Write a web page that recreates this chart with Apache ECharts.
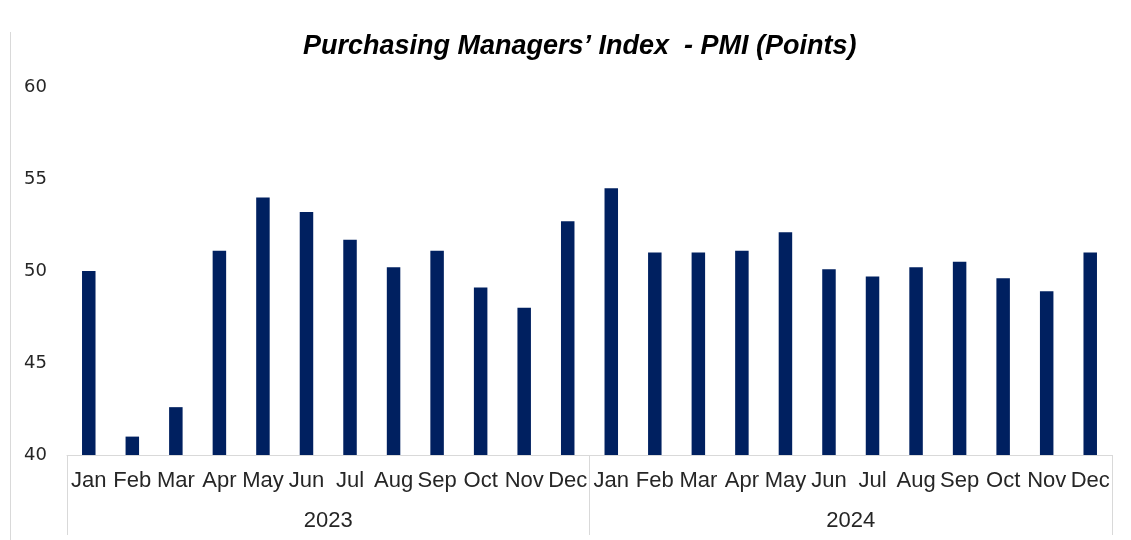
<!DOCTYPE html>
<html lang="en">
  <head>
    <meta charset="UTF-8" />
    <title>Purchasing Managers' Index - PMI</title>
    <script src="https://cdnjs.cloudflare.com/ajax/libs/echarts/6.0.0/echarts.min.js"></script>
    <style>
      html, body { margin: 0; padding: 0; background: #fff; }
      #main { width: 1131px; height: 540px; }
    </style>
  </head>
  <body>
    <div id="main"></div>
    <script type="text/javascript">
      // data
      const months = ["Jan", "Feb", "Mar", "Apr", "May", "Jun", "Jul", "Aug", "Sep", "Oct", "Nov", "Dec"];
      const years = ["2023", "2024"];
      const pmi2023 = [50.0, 41.0, 42.6, 51.1, 54.0, 53.2, 51.7, 50.2, 51.1, 49.1, 48.0, 52.7];
      const pmi2024 = [54.5, 51.0, 51.0, 51.1, 52.1, 50.1, 49.7, 50.2, 50.5, 49.6, 48.9, 51.0];
      const yTicks = [40, 45, 50, 55, 60];

      const categories = months.concat(months);
      const values = pmi2023.concat(pmi2024);

      var myChart = echarts.init(document.getElementById("main"));

      var option = {
        animation: false,
        title: {
          text: "Purchasing Managers\u2019 Index  - PMI (Points)",
          left: 298,
          top: 28,
          textStyle: {
            fontFamily: "Liberation Sans, Arial",
            fontStyle: "italic",
            fontWeight: "bold",
            fontSize: 27,
            color: "#000",
          },
        },
        grid: { left: 67, right: 19, top: 87, bottom: 85 },
        xAxis: [
          {
            type: "category",
            data: categories,
            axisLine: { lineStyle: { color: "#d9d9d9", width: 1 } },
            axisTick: { show: false },
            axisLabel: {
              interval: 0,
              margin: 15,
              fontFamily: "Liberation Sans, Arial",
              fontSize: 22,
              color: "#262626",
            },
          },
          {
            type: "category",
            data: years,
            position: "bottom",
            axisLine: { show: false },
            axisTick: { show: true, length: 80, lineStyle: { color: "#d9d9d9" } },
            axisLabel: {
              margin: 55,
              fontFamily: "Liberation Sans, Arial",
              fontSize: 22,
              color: "#262626",
            },
          },
        ],
        yAxis: {
          type: "value",
          min: yTicks[0],
          max: yTicks[yTicks.length - 1],
          interval: 5,
          splitLine: { show: false },
          axisLine: { show: false },
          axisTick: { show: false },
          axisLabel: {
            margin: 20,
            padding: [5, 0, 0, 0],
            fontFamily: "DejaVu Sans",
            fontSize: 18,
            color: "#262626",
          },
        },
        graphic: [
          {
            type: "line",
            shape: { x1: 10.5, y1: 32, x2: 10.5, y2: 540 },
            style: { stroke: "#d9d9d9", lineWidth: 1 },
          },
        ],
        series: [
          {
            name: "PMI",
            type: "bar",
            xAxisIndex: 0,
            data: values,
            barWidth: "31%",
            itemStyle: { color: "#002060" },
          },
        ],
      };
      myChart.setOption(option);
    </script>
  </body>
</html>
